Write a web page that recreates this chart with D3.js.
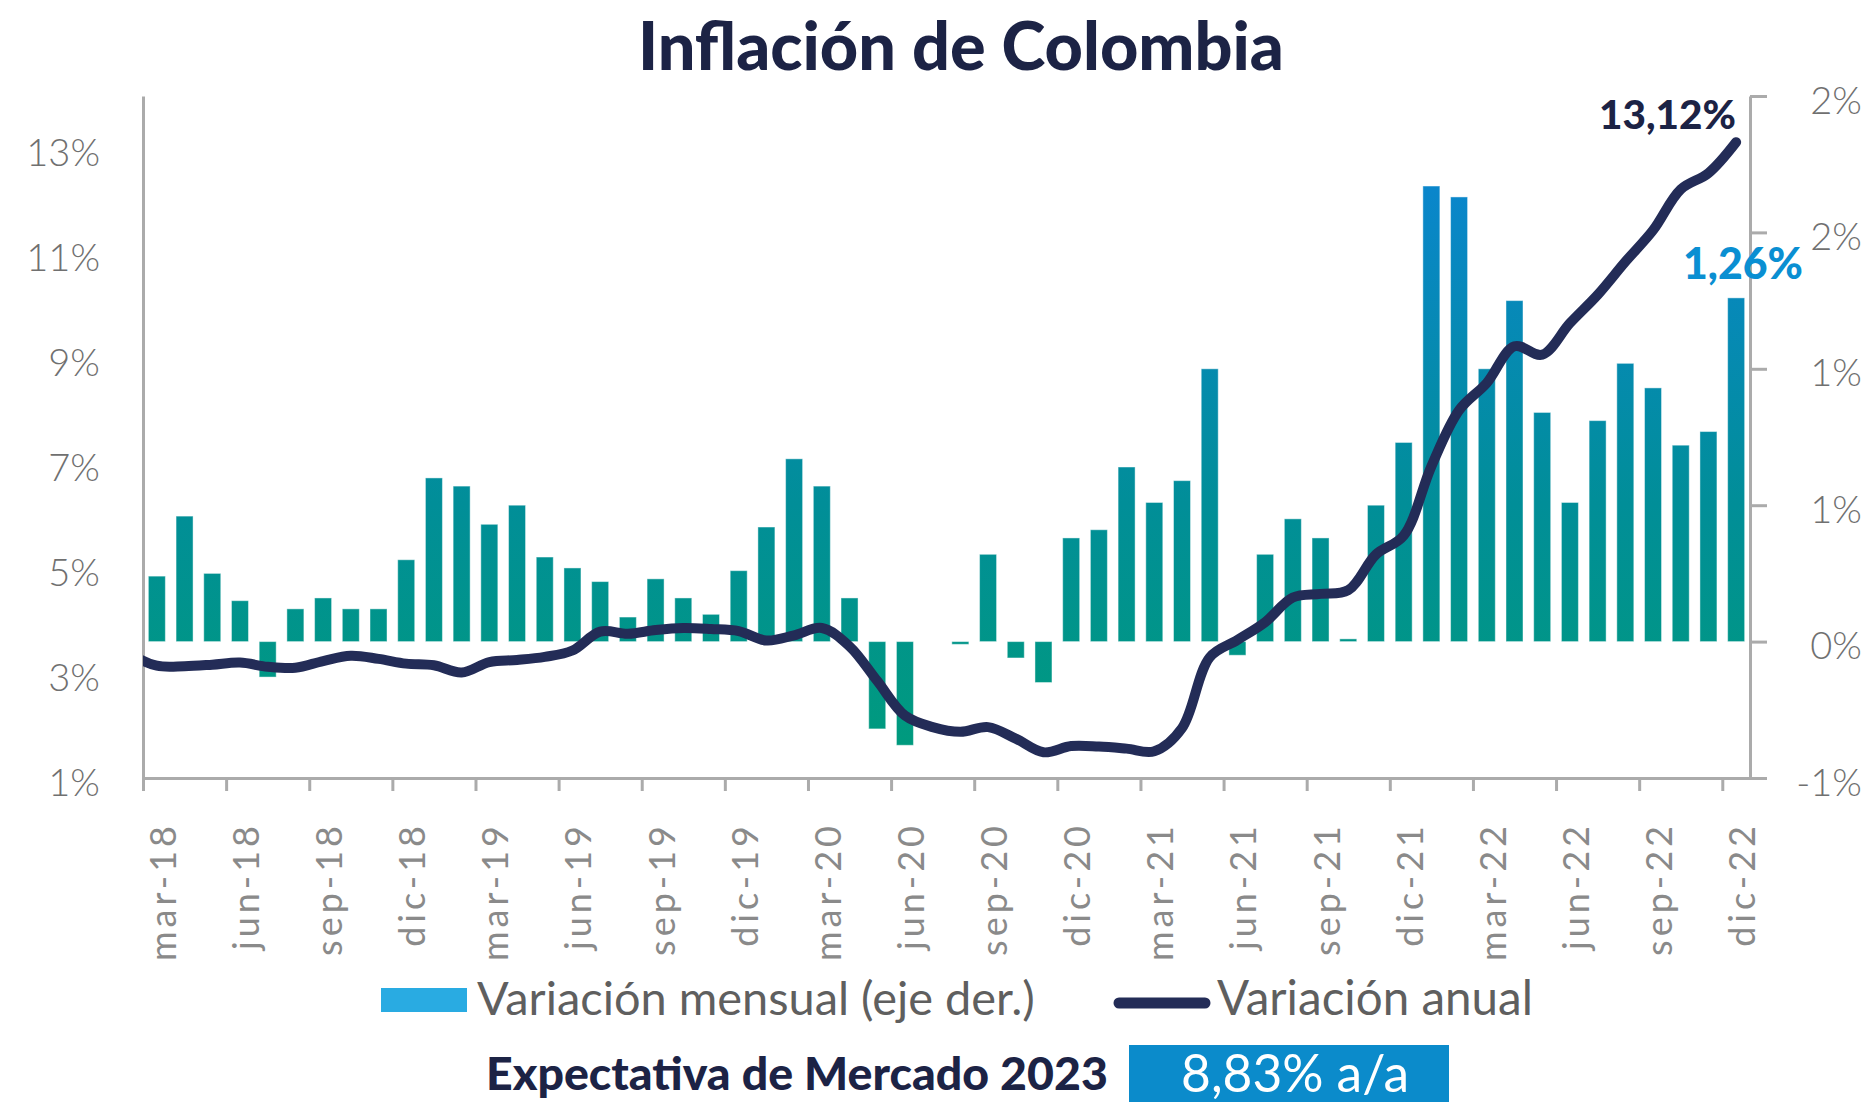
<!DOCTYPE html>
<html>
<head>
<meta charset="utf-8">
<script src="https://cdn.jsdelivr.net/npm/d3@7"></script>
<style>
  body { margin: 0; background: #fff; }
  svg text { font-family: Lato, "Open Sans", sans-serif; }
</style>
</head>
<body>
<div id="chart"></div>
<script>
// categorias (mensual, mar-18 a dic-22)
var meses = [
  "mar-18","abr-18","may-18","jun-18","jul-18","ago-18","sep-18","oct-18","nov-18","dic-18",
  "ene-19","feb-19","mar-19","abr-19","may-19","jun-19","jul-19","ago-19","sep-19","oct-19","nov-19","dic-19",
  "ene-20","feb-20","mar-20","abr-20","may-20","jun-20","jul-20","ago-20","sep-20","oct-20","nov-20","dic-20",
  "ene-21","feb-21","mar-21","abr-21","may-21","jun-21","jul-21","ago-21","sep-21","oct-21","nov-21","dic-21",
  "ene-22","feb-22","mar-22","abr-22","may-22","jun-22","jul-22","ago-22","sep-22","oct-22","nov-22","dic-22"
];
// variacion mensual (eje der.), %
var mensual = [
  0.24, 0.46, 0.25, 0.15, -0.13, 0.12, 0.16, 0.12, 0.12, 0.30,
  0.60, 0.57, 0.43, 0.50, 0.31, 0.27, 0.22, 0.09, 0.23, 0.16, 0.10, 0.26,
  0.42, 0.67, 0.57, 0.16, -0.32, -0.38, 0.00, -0.01, 0.32, -0.06, -0.15, 0.38,
  0.41, 0.64, 0.51, 0.59, 1.00, -0.05, 0.32, 0.45, 0.38, 0.01, 0.50, 0.73,
  1.67, 1.63, 1.00, 1.25, 0.84, 0.51, 0.81, 1.02, 0.93, 0.72, 0.77, 1.26
];
// variacion anual, %  (empieza en feb-18, recortada por el eje)
var anualInicio = -1;
var anual = [
  3.37, 3.14, 3.13, 3.16, 3.20, 3.12, 3.10, 3.23, 3.33, 3.27, 3.18,
  3.15, 3.01, 3.21, 3.25, 3.31, 3.43, 3.79, 3.75, 3.82, 3.86, 3.84, 3.80,
  3.62, 3.72, 3.86, 3.51, 2.85, 2.19, 1.97, 1.88, 1.97, 1.75, 1.49, 1.61,
  1.60, 1.56, 1.51, 1.95, 3.30, 3.63, 3.97, 4.44, 4.51, 4.58, 5.26, 5.62,
  6.94, 8.01, 8.53, 9.23, 9.07, 9.67, 10.21, 10.84, 11.44, 12.22, 12.53, 13.12
];
var ticksIzq = [1, 3, 5, 7, 9, 11, 13];
var ticksDer = [-0.5, 0, 0.5, 1, 1.5, 2];
var etiquetasDer = ["-1%", "0%", "1%", "1%", "2%", "2%"];
var cadaTres = d3.range(0, meses.length, 3);

var W = 1870, H = 1102;
var pLeft = 143, pRight = 1750, pTop = 96, pBottom = 778;

var svg = d3.select("#chart").append("svg")
  .attr("width", W).attr("height", H);

var defs = svg.append("defs");
var grad = defs.append("linearGradient")
  .attr("id", "barras")
  .attr("gradientUnits", "userSpaceOnUse")
  .attr("x1", 0).attr("x2", 0).attr("y1", 190).attr("y2", 760);
grad.append("stop").attr("offset", 0).attr("stop-color", "#0A86CB");
grad.append("stop").attr("offset", 0.55).attr("stop-color", "#018E98");
grad.append("stop").attr("offset", 1).attr("stop-color", "#009B7C");

defs.append("clipPath").attr("id", "area")
  .append("rect").attr("x", pLeft).attr("y", 0)
  .attr("width", pRight - pLeft).attr("height", pBottom);

var x = d3.scaleLinear().domain([0, meses.length]).range([pLeft, pRight]);
var yL = d3.scaleLinear().domain([1, 14]).range([pBottom, pTop]);
var yR = d3.scaleLinear().domain([-0.5, 2]).range([pBottom, pTop]);
var barW = 17;

function fit(t, target) {
  var w = t.node().getComputedTextLength();
  var fs = parseFloat(t.attr("font-size"));
  t.attr("font-size", fs * target / w);
  return t;
}

// barras
svg.append("g").selectAll("rect")
  .data(mensual)
  .enter().append("rect")
  .attr("x", function(d, i) { return x(i + 0.5) - barW / 2; })
  .attr("y", function(d) { return yR(Math.max(0, d)); })
  .attr("width", barW)
  .attr("height", function(d) { return Math.abs(yR(d) - yR(0)); })
  .style("fill", "url(#barras)")
  .style("stroke", "rgba(255,255,255,0.45)")
  .style("stroke-width", 1);

// ejes
var gx = svg.append("g")
  .attr("transform", "translate(0," + pBottom + ")")
  .call(d3.axisBottom(x).tickValues(cadaTres).tickSize(13).tickSizeOuter(0).tickFormat(""));
var gl = svg.append("g")
  .attr("transform", "translate(" + pLeft + ",0)")
  .call(d3.axisLeft(yL).tickValues(ticksIzq).tickSize(0).tickSizeOuter(0).tickPadding(43)
    .tickFormat(function(d) { return d + "%"; }));
var gr = svg.append("g")
  .attr("transform", "translate(" + pRight + ",0)")
  .call(d3.axisRight(yR).tickValues(ticksDer).tickSize(17).tickSizeOuter(0)
    .tickFormat(function(d, i) { return etiquetasDer[i]; }));

[gx, gl, gr].forEach(function(g) {
  g.select(".domain").style("stroke", "#ABABAB").style("stroke-width", 3);
  g.selectAll(".tick line").style("stroke", "#ABABAB").style("stroke-width", 3);
  g.selectAll("text").style("font-family", "Lato, sans-serif")
    .style("font-size", "38px").style("font-weight", 300).style("fill", "#707070");
});
gl.selectAll("text").attr("dy", "0.45em");
gr.selectAll("text").attr("x", 112).attr("dy", "0.45em").style("text-anchor", "end");

// etiquetas del eje x
svg.append("g").selectAll("text")
  .data(cadaTres)
  .enter().append("text")
  .attr("transform", function(i) { return "translate(" + (x(i + 0.5) + 6) + ",822) rotate(-90)"; })
  .attr("dy", "0.36em")
  .attr("text-anchor", "end")
  .attr("font-size", 36)
  .attr("font-weight", 400)
  .attr("letter-spacing", 4)
  .attr("fill", "#8A8A8A")
  .text(function(i) { return meses[i]; });

// linea anual
var linea = d3.line()
  .x(function(d, i) { return x(i + anualInicio + 0.5); })
  .y(function(d) { return yL(d); })
  .curve(d3.curveCatmullRom);
svg.append("path")
  .datum(anual)
  .attr("clip-path", "url(#area)")
  .attr("d", linea)
  .style("fill", "none")
  .style("stroke", "#232C57")
  .style("stroke-width", 10)
  .style("stroke-linecap", "round")
  .style("stroke-linejoin", "round");

// titulo y anotaciones
fit(svg.append("text").attr("x", 961).attr("y", 70)
  .attr("text-anchor", "middle").attr("font-size", 60).attr("font-weight", 900)
  .attr("fill", "#1C2345").text("Inflación de Colombia"), 646);

var ultA = anual[anual.length - 1], ultM = mensual[mensual.length - 1];
fit(svg.append("text").attr("x", 1736).attr("y", 129)
  .attr("text-anchor", "end").attr("font-size", 42).attr("font-weight", 900)
  .attr("fill", "#1C2345").text(d3.format(".2f")(ultA).replace(".", ",") + "%"), 137);
fit(svg.append("text").attr("x", 1683).attr("y", 279)
  .attr("font-size", 42).attr("font-weight", 900)
  .attr("fill", "#0A8FD2").text(d3.format(".2f")(ultM).replace(".", ",") + "%"), 120);

// leyenda
svg.append("rect").attr("x", 381).attr("y", 988).attr("width", 86).attr("height", 24)
  .attr("fill", "#29ABE2");
fit(svg.append("text").attr("x", 477).attr("y", 1015)
  .attr("font-size", 40).attr("font-weight", 400).attr("fill", "#5F5F5F")
  .text("Variación mensual (eje der.)"), 558);
svg.append("line").attr("x1", 1119).attr("x2", 1205).attr("y1", 1003).attr("y2", 1003)
  .style("stroke", "#232C57").style("stroke-width", 11).style("stroke-linecap", "round");
fit(svg.append("text").attr("x", 1217).attr("y", 1015)
  .attr("font-size", 40).attr("font-weight", 400).attr("fill", "#5F5F5F")
  .text("Variación anual"), 316);

// expectativa
fit(svg.append("text").attr("x", 486).attr("y", 1090)
  .attr("font-size", 40).attr("font-weight", 900).attr("fill", "#1C2345")
  .text("Expectativa de Mercado 2023"), 622);
svg.append("rect").attr("x", 1129).attr("y", 1045).attr("width", 320).attr("height", 60)
  .attr("fill", "#0B8BCB");
fit(svg.append("text").attr("x", 1295).attr("y", 1092)
  .attr("text-anchor", "middle").attr("font-size", 44).attr("font-weight", 400).attr("fill", "#ffffff")
  .text("8,83% a/a"), 228);
</script>
</body>
</html>
